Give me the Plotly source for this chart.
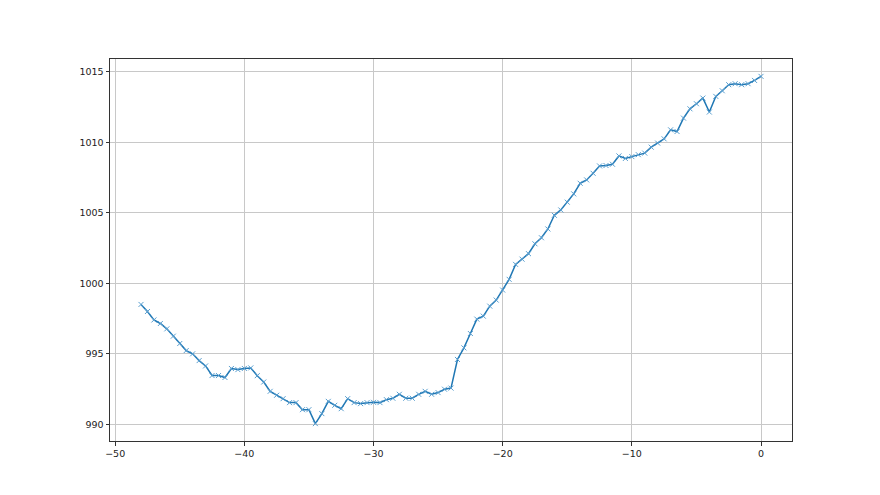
import plotly.graph_objects as go

x_vals = [i * 0.5 - 48 for i in range(97)]
pressure = [
    998.5, 998.0, 997.4, 997.15, 996.77, 996.25, 995.73, 995.23, 995.0, 994.52,
    994.14, 993.46, 993.46, 993.32, 993.96, 993.88, 993.96, 994.0, 993.45, 993.0,
    992.34, 992.06, 991.82, 991.54, 991.54, 991.04, 991.04, 990.05, 990.76, 991.63,
    991.35, 991.11, 991.82, 991.54, 991.47, 991.54, 991.56, 991.54, 991.75, 991.85,
    992.13, 991.85, 991.85, 992.13, 992.34, 992.13, 992.25, 992.49, 992.57, 994.6,
    995.42, 996.44, 997.46, 997.67, 998.38, 998.81, 999.52, 1000.28, 1001.34, 1001.71,
    1002.1, 1002.8, 1003.23, 1003.85, 1004.82, 1005.2, 1005.75, 1006.34, 1007.09, 1007.33,
    1007.8, 1008.32, 1008.35, 1008.44, 1009.03, 1008.85, 1008.98, 1009.12, 1009.23, 1009.65,
    1009.94, 1010.24, 1010.88, 1010.76, 1011.71, 1012.37, 1012.73, 1013.13, 1012.14, 1013.25,
    1013.65, 1014.08, 1014.15, 1014.08, 1014.15, 1014.38, 1014.67,
]

xmin, xmax = min(x_vals), max(x_vals)
ymin, ymax = min(pressure), max(pressure)
xpad = (xmax - xmin) * 0.05
ypad = (ymax - ymin) * 0.05

color = "#1f77b4"
fig = go.Figure(go.Scatter(
    x=x_vals, y=pressure, mode="lines+markers",
    line=dict(color=color, width=1.5),
    marker=dict(symbol="x-thin", size=5, color=color, line=dict(color="#5a9fd0", width=1)),
))

axis_common = dict(
    showgrid=True, gridcolor="#c8c8c8", gridwidth=1,
    showline=True, linecolor="#333333", linewidth=1, mirror=True,
    ticks="outside", ticklen=3.5, tickcolor="#333333", tickwidth=0.8,
    zeroline=False,
    tickfont=dict(family="DejaVu Sans", size=9.5, color="#222222"),
)

# page body has an 8px default margin, so the figure is sized to fit inside it
fig.update_layout(
    width=864, height=479,
    margin=dict(l=102, r=80, t=51, b=46),
    plot_bgcolor="white", paper_bgcolor="white",
    showlegend=False,
    xaxis=dict(range=[xmin - xpad, xmax + xpad], dtick=10, tick0=0, **axis_common),
    yaxis=dict(range=[ymin - ypad, ymax + ypad], dtick=5, tick0=0, **axis_common),
)

fig.write_html("out.html")
